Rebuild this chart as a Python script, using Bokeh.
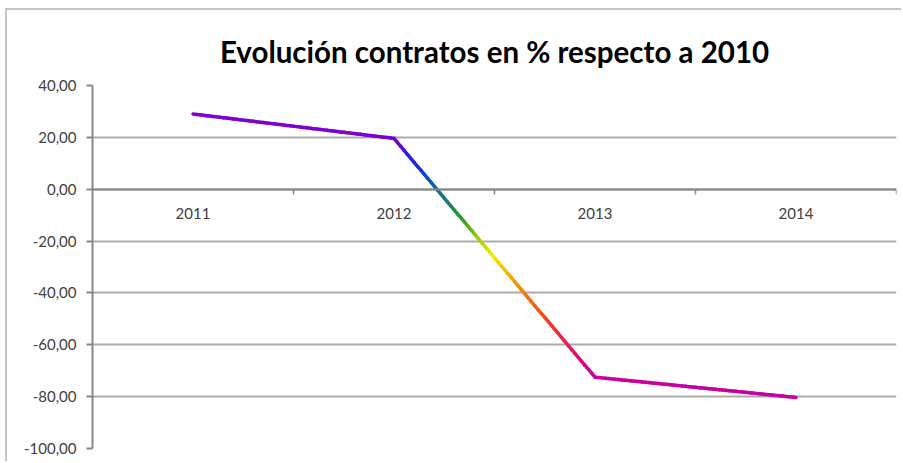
import numpy as np
from bokeh.plotting import figure
from bokeh.models import FixedTicker, Range1d, ColumnDataSource
from bokeh.embed import file_html
from bokeh.resources import INLINE

# ---- data ----
title_text = "Evolución contratos en % respecto a 2010"
years = ["2011", "2012", "2013", "2014"]
values = [29.0, 19.6, -72.5, -80.3]
y_ticks = [-100, -80, -60, -40, -20, 0, 20, 40]
y_tick_labels = ["-100,00", "-80,00", "-60,00", "-40,00", "-20,00", "0,00", "20,00", "40,00"]

# gradient stops of the line colour (by value)
stop_vals = [40, 18.0, 12.7, 5.0, 0.0, -6.6, -12.4, -19.7, -25.9, -33.6, -40.2, -51.0, -60.2, -68.3, -72.6, -100]
stop_cols = ["#8a00cc", "#7a00d0", "#2a1aee", "#1040d8", "#107090", "#208060", "#30a020",
             "#a0d000", "#f0f000", "#f0b000", "#f08010", "#f04020", "#e82050", "#d80090",
             "#c800a0", "#c000a8"]

FONT = "Lato"
TEXT = "#404040"


def hex2rgb(h):
    return np.array([int(h[i:i + 2], 16) for i in (1, 3, 5)], dtype=float)


stop_rgb = [hex2rgb(c) for c in stop_cols]
sv = np.array(stop_vals[::-1])
sr = np.array(stop_rgb[::-1])


def color_at(v):
    r = np.interp(v, sv, sr[:, 0])
    g = np.interp(v, sv, sr[:, 1])
    b = np.interp(v, sv, sr[:, 2])
    return "#%02x%02x%02x" % (int(round(r)), int(round(g)), int(round(b)))


xpos = [i + 0.5 for i in range(len(years))]
x0, y0, x1, y1, cols = [], [], [], [], []
N = 60
for i in range(len(values) - 1):
    for k in range(N):
        t0, t1 = k / N, (k + 1) / N
        xa = xpos[i] + (xpos[i + 1] - xpos[i]) * t0
        xb = xpos[i] + (xpos[i + 1] - xpos[i]) * t1
        ya = values[i] + (values[i + 1] - values[i]) * t0
        yb = values[i] + (values[i + 1] - values[i]) * t1
        x0.append(xa); x1.append(xb); y0.append(ya); y1.append(yb)
        cols.append(color_at((ya + yb) / 2))

src = ColumnDataSource(dict(x0=x0, y0=y0, x1=x1, y1=y1, c=cols))

p = figure(width=896, height=453, output_backend="svg", toolbar_location=None,
           x_range=Range1d(0, len(years)), y_range=Range1d(-100, 40),
           min_border_left=85, min_border_right=7, min_border_bottom=15, min_border_top=75)

p.title.text = title_text
p.title.text_font = FONT
p.title.text_font_size = "29.5px"
p.title.text_font_style = "bold"
p.title.text_color = "#000000"
p.title.align = "center"
p.title.standoff = 33

p.outline_line_color = None
p.background_fill_color = "white"
p.border_fill_color = "white"

# y axis
ya = p.yaxis[0]
ya.ticker = FixedTicker(ticks=y_ticks, minor_ticks=[])
ya.major_label_overrides = {t: l for t, l in zip(y_ticks, y_tick_labels)}
ya.axis_line_color = "#868686"
ya.axis_line_width = 2
ya.major_tick_line_color = "#868686"
ya.major_tick_line_width = 2
ya.major_tick_out = 6
ya.major_tick_in = 0
ya.major_label_standoff = 10
ya.major_label_text_font = FONT
ya.major_label_text_font_size = "15px"
ya.major_label_text_color = TEXT

# x axis at y = 0
xa = p.xaxis[0]
xa.fixed_location = 0
xa.ticker = FixedTicker(ticks=xpos, minor_ticks=list(range(1, len(years) + 1)))
xa.major_label_overrides = {x: y for x, y in zip(xpos, years)}
xa.axis_line_color = "#868686"
xa.axis_line_width = 2
xa.major_tick_out = 0
xa.major_tick_in = 0
xa.minor_tick_line_color = "#868686"
xa.minor_tick_line_width = 1.5
xa.minor_tick_out = 5
xa.minor_tick_in = 0
xa.major_label_standoff = 14
xa.major_label_text_font = FONT
xa.major_label_text_font_size = "15px"
xa.major_label_text_color = TEXT

p.xgrid.grid_line_color = None
p.ygrid.ticker = FixedTicker(ticks=y_ticks)
p.ygrid.grid_line_color = "#ababab"
p.ygrid.grid_line_width = 2

p.segment(x0="x0", y0="y0", x1="x1", y1="y1", line_color="c", line_width=3.5,
          line_cap="round", source=src)

p.styles = {"margin-left": "5px", "margin-top": "8px",
            "border-left": "2px solid #c4c4c4", "border-top": "2px solid #c4c4c4"}

open("out.html", "w").write(file_html(p, INLINE))
